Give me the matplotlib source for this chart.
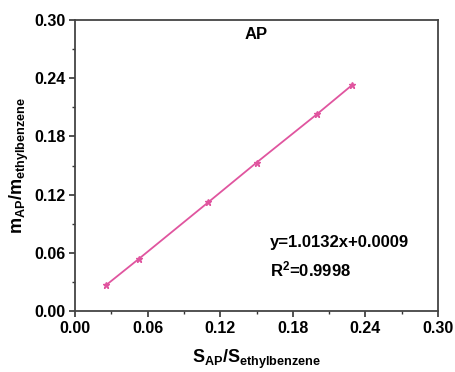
import matplotlib
matplotlib.use('Agg')
from matplotlib import pyplot as plt
from matplotlib.ticker import MultipleLocator

# data
x = [0.026, 0.053, 0.110, 0.150, 0.200, 0.229]
y = [0.027, 0.054, 0.112, 0.153, 0.203, 0.233]
ticks = [0.00, 0.06, 0.12, 0.18, 0.24, 0.30]
title = 'AP'
eq_text = 'y=1.0132x+0.0009'
r2_text = r'R$^{\mathbf{2}}$=0.9998'

plt.rcParams['font.family'] = ['Liberation Sans', 'DejaVu Sans']
plt.rcParams['font.weight'] = 'bold'
plt.rcParams['mathtext.fontset'] = 'custom'
plt.rcParams['mathtext.bf'] = 'Liberation Sans:bold'
plt.rcParams['mathtext.rm'] = 'Liberation Sans:bold'
plt.rcParams['mathtext.default'] = 'bf'

fig = plt.figure(figsize=(4.56, 3.72), dpi=100)
ax = fig.add_axes([0.1645, 0.164, 0.796, 0.782])

ax.plot(x, y, color='#e0559f', lw=1.3, marker='*', ms=5, mec='#e0559f', mfc='#e0559f')

ax.set_xlim(0, 0.30)
ax.set_ylim(0, 0.30)
ax.set_xticks(ticks)
ax.set_yticks(ticks)
ax.set_xticklabels(['%.2f' % t for t in ticks])
ax.set_yticklabels(['%.2f' % t for t in ticks])
ax.xaxis.set_minor_locator(MultipleLocator(0.03))
ax.yaxis.set_minor_locator(MultipleLocator(0.03))
ax.tick_params(which='major', direction='out', length=4, width=1.2, labelsize=11.5,
               colors='#333333', labelcolor='black', pad=3)
ax.tick_params(which='minor', direction='out', length=2.5, width=1.0, colors='#333333')
for s in ax.spines.values():
    s.set_linewidth(1.3)
    s.set_color('#444444')

ax.set_xlabel(r'$\mathbf{S_{AP}/S_{ethylbenzene}}$', fontsize=13, labelpad=9)
ax.set_ylabel(r'$\mathbf{m_{AP}/m_{ethylbenzene}}$', fontsize=13, labelpad=2)

ax.text(0.5, 0.95, title, transform=ax.transAxes, ha='center', va='center', fontsize=12, fontweight='bold')
ax.text(0.537, 0.234, eq_text, transform=ax.transAxes, ha='left', va='center', fontsize=12, fontweight='bold')
ax.text(0.537, 0.144, r2_text, transform=ax.transAxes, ha='left', va='center', fontsize=12, fontweight='bold')

plt.savefig('out.png', dpi=100)
